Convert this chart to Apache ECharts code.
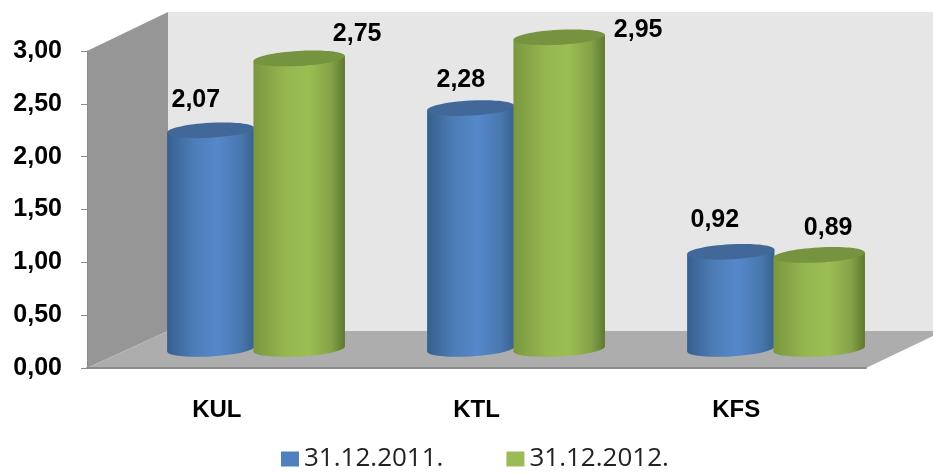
<!DOCTYPE html>
<html>
<head>
<meta charset="utf-8">
<style>
    html, body { margin: 0; padding: 0; background: #fff; }
    #main { width: 933px; height: 474px; }
</style>
<script src="https://cdn.jsdelivr.net/npm/echarts@6/dist/echarts.min.js"></script>
</head>
<body>
<div id="main"></div>
<script>
var categories = ['KUL', 'KTL', 'KFS'];
var seriesNames = ['31.12.2011.', '31.12.2012.'];
var values2011 = [2.07, 2.28, 0.92];
var values2012 = [2.75, 2.95, 0.89];
// label offsets from the top of each cylinder, px
var labelShift2011 = [[-15, -30], [-10, -28], [-16, -32]];
var labelShift2012 = [[58, -24], [79, -7], [9, -27]];

var boldFont = '"Liberation Sans", Arial, sans-serif';

function comma(v) {
    return v.toFixed(2).replace('.', ',');
}

function hGradient(stops) {
    return {
        type: 'linear', x: 0, y: 0, x2: 1, y2: 0,
        colorStops: stops.map(function (s) {
            return { offset: s[0], color: s[1] };
        })
    };
}

var blueBody = hGradient([[0, '#365f8e'], [0.3, '#4d7db6'], [0.58, '#5588cb'], [0.85, '#4877ad'], [1, '#38608e']]);
var greenBody = hGradient([[0, '#7a973f'], [0.35, '#95b750'], [0.6, '#9bbe53'], [0.85, '#84a247'], [1, '#5e7930']]);

// one cylinder: body, base ellipse, top ellipse, value label
function cylinder(side, radius, body, topColor, shifts, values) {
    return function (params, api) {
        var idx = api.value(0);
        var p = api.coord([idx, values[idx]]);
        var base = api.coord([idx, 0]);
        var band = api.size([1, 0])[0];
        var rx = band * radius;
        // the green one sits over the blue one by a couple of pixels
        var cx = p[0] + side * band * 0.17;
        var tilt = 0.055;
        var dy = rx * tilt;
        var ry = 7.5;
        return {
            type: 'group',
            children: [{
                type: 'ellipse',
                shape: { cx: 0, cy: 0, rx: rx, ry: ry },
                x: cx, y: base[1], rotation: tilt,
                style: { fill: body }
            }, {
                type: 'polygon',
                shape: {
                    points: [
                        [cx - rx, p[1] + dy], [cx + rx, p[1] - dy],
                        [cx + rx, base[1] - dy], [cx - rx, base[1] + dy]
                    ]
                },
                style: { fill: body }
            }, {
                type: 'ellipse',
                shape: { cx: 0, cy: 0, rx: rx, ry: ry },
                x: cx, y: p[1], rotation: tilt,
                style: { fill: topColor }
            }, {
                type: 'text',
                x: cx + shifts[idx][0],
                y: p[1] + shifts[idx][1],
                style: {
                    text: comma(values[idx]),
                    fill: '#000',
                    font: 'bold 25px ' + boldFont,
                    textAlign: 'center',
                    textVerticalAlign: 'middle'
                }
            }]
        };
    };
}

function pairs(values) {
    return values.map(function (v, i) {
        return [i, v];
    });
}

var myChart = echarts.init(document.querySelector('#main'));

var option = {
    animation: false,
    backgroundColor: '#fff',
    legend: {
        data: seriesNames,
        left: 276,
        top: 441,
        itemWidth: 18,
        itemHeight: 15,
        itemGap: 63,
        icon: 'rect',
        textStyle: {
            fontFamily: '"Open Sans", sans-serif',
            fontSize: 26,
            color: '#222',
            padding: [12, 0, 0, 0]
        }
    },
    // [0] front plane with the axes, [1] mid depth plane the cylinders stand on
    grid: [
        { left: 87, top: 51, width: 779, height: 317 },
        { left: 125, top: 32, width: 780, height: 317 }
    ],
    xAxis: [{
        type: 'category',
        gridIndex: 0,
        data: categories,
        axisTick: { show: false },
        axisLine: { lineStyle: { color: '#8c8c8c', width: 2 } },
        axisLabel: {
            margin: 30,
            color: '#000',
            fontWeight: 'bold',
            fontFamily: boldFont,
            fontSize: 24
        }
    }, {
        type: 'category',
        gridIndex: 1,
        data: categories,
        show: false
    }],
    yAxis: [{
        type: 'value',
        gridIndex: 0,
        min: 0,
        max: 3,
        interval: 0.5,
        splitLine: { show: false },
        axisLine: { show: true, lineStyle: { color: '#8c8c8c' } },
        axisTick: { show: true, length: 6, lineStyle: { color: '#8c8c8c' } },
        axisLabel: {
            margin: 25,
            color: '#000',
            fontWeight: 'bold',
            fontFamily: boldFont,
            fontSize: 25,
            padding: [3, 0, 0, 0],
            formatter: comma
        }
    }, {
        type: 'value',
        gridIndex: 1,
        min: 0,
        max: 3,
        interval: 0.5,
        show: false
    }],
    // chart box: side wall, back wall, floor
    graphic: [{
        type: 'polygon',
        z: -3,
        shape: { points: [[87, 51], [168, 12], [168, 331], [87, 368]] },
        style: { fill: '#969696' }
    }, {
        type: 'rect',
        z: -3,
        shape: { x: 168, y: 12, width: 765, height: 319 },
        style: { fill: '#e6e6e6' }
    }, {
        type: 'polygon',
        z: -3,
        shape: { points: [[87, 368], [168, 331], [933, 331], [933, 336], [866, 368]] },
        style: { fill: '#adadad' }
    }],
    series: [{
        name: seriesNames[0],
        type: 'custom',
        xAxisIndex: 1,
        yAxisIndex: 1,
        silent: true,
        itemStyle: { color: '#4f81bd' },
        renderItem: cylinder(-1, 0.168, blueBody, '#42689a', labelShift2011, values2011),
        data: pairs(values2011)
    }, {
        name: seriesNames[1],
        type: 'custom',
        xAxisIndex: 1,
        yAxisIndex: 1,
        silent: true,
        itemStyle: { color: '#9bbb59' },
        renderItem: cylinder(1, 0.176, greenBody, '#76933f', labelShift2012, values2012),
        data: pairs(values2012)
    }]
};
myChart.setOption(option);
</script>
</body>
</html>
